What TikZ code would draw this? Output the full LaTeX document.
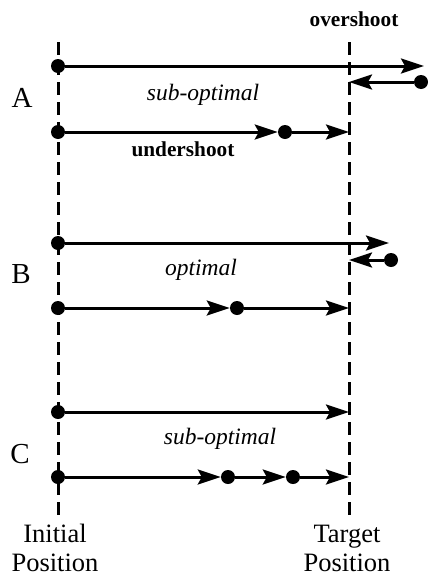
\documentclass[tikz,border=0pt]{standalone}
\usepackage{fontspec}
\setmainfont{Liberation Serif}
\usetikzlibrary{arrows.meta}
\begin{document}
\begin{tikzpicture}[x=1pt,y=-1pt,
  guide/.style={line width=3pt, dash pattern=on 13pt off 7pt},
  move/.style={line width=3pt, -{Stealth[length=23pt,width=15pt,inset=4pt]}},
  dot/.style={circle, fill=black, inner sep=0pt, minimum size=14pt},
  rowlabel/.style={font=\fontsize{29}{34}\selectfont, anchor=base},
  kind/.style={font=\fontsize{23.5}{28}\selectfont\itshape, anchor=base},
  shoot/.style={font=\fontsize{21.3}{26}\selectfont\bfseries, anchor=base},
  axis/.style={font=\fontsize{26.5}{31}\selectfont, anchor=base}]
\useasboundingbox (0,0) rectangle (428,576);

% initial and target positions
\coordinate (i0) at (58,42);  \coordinate (i1) at (58,517);
\coordinate (t0) at (349,42); \coordinate (t1) at (349,517);
\draw[guide] (i0) -- (i1);
\draw[guide] (t0) -- (t1);

% A: overshoot and undershoot
\node[dot] (a1) at (58,66) {};
\coordinate (a1e) at (424,66);
\draw[move] (a1) -- (a1e);
\node[dot] (a2) at (421,82) {};
\coordinate (a2e) at (349,82);
\draw[move] (a2) -- (a2e);
\node[dot] (a3) at (58,132) {};
\node[dot] (a4) at (285,132) {};
\coordinate (a4e) at (349,132);
\draw[move] (a3) -- (a4);
\draw[move] (a4) -- (a4e);

% B: optimal
\node[dot] (b1) at (58,243) {};
\coordinate (b1e) at (389,243);
\draw[move] (b1) -- (b1e);
\node[dot] (b2) at (391,260) {};
\coordinate (b2e) at (349,260);
\draw[move] (b2) -- (b2e);
\node[dot] (b3) at (58,308) {};
\node[dot] (b4) at (237,308) {};
\coordinate (b4e) at (349,308);
\draw[move] (b3) -- (b4);
\draw[move] (b4) -- (b4e);

% C: too many small steps
\node[dot] (c1) at (58,412) {};
\coordinate (c1e) at (349,412);
\draw[move] (c1) -- (c1e);
\node[dot] (c2) at (58,477) {};
\node[dot] (c3) at (228,477) {};
\node[dot] (c4) at (293,477) {};
\coordinate (c4e) at (349,477);
\draw[move] (c2) -- (c3);
\draw[move] (c3) -- (c4);
\draw[move] (c4) -- (c4e);

% labels
\node[shoot] (over) at (354,26) {overshoot};
\node[rowlabel] (la) at (22,107) {A};
\node[kind] (ka) at (203,100) {sub-optimal};
\node[shoot] (under) at (183,156) {undershoot};
\node[rowlabel] (lb) at (21,283) {B};
\node[kind] (kb) at (201,275) {optimal};
\node[rowlabel] (lc) at (20,463) {C};
\node[kind] (kc) at (220,444) {sub-optimal};
\node[axis] (ini) at (55,542) {Initial};
\node[axis] (inp) at (55,571) {Position};
\node[axis] (tgt) at (347,542) {Target};
\node[axis] (tgp) at (347,571) {Position};
\end{tikzpicture}
\end{document}
